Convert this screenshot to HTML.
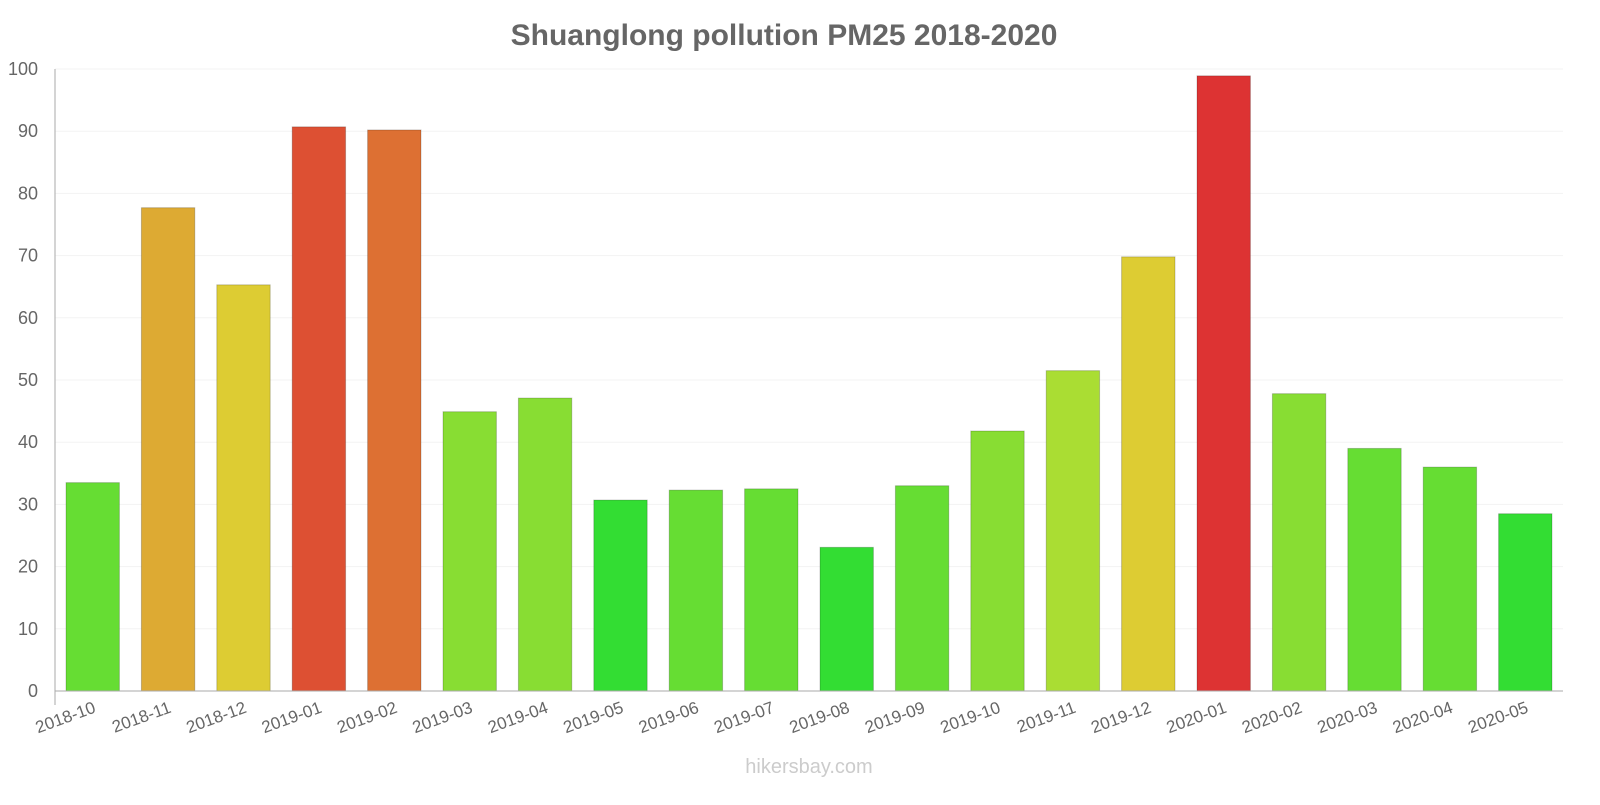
<!DOCTYPE html>
<html><head><meta charset="utf-8"><style>
body{margin:0;background:#fff;font-family:"Liberation Sans",sans-serif}
svg text{font-family:"Liberation Sans",sans-serif}
</style></head><body>
<svg id="chart" width="1600" height="800">
<text x="784" y="45" text-anchor="middle" font-size="30" font-weight="bold" fill="#666">Shuanglong pollution PM25 2018-2020</text>
<g id="grid"></g><g id="bars"></g><g id="axes"></g>
<text x="809" y="773" text-anchor="middle" font-size="20" fill="#ccc">hikersbay.com</text>
</svg>
<script>
const categories=["2018-10","2018-11","2018-12","2019-01","2019-02","2019-03","2019-04","2019-05","2019-06","2019-07","2019-08","2019-09","2019-10","2019-11","2019-12","2020-01","2020-02","2020-03","2020-04","2020-05"];
const values=[33.5,77.7,65.3,90.7,90.2,44.9,47.1,30.7,32.3,32.5,23.1,33,41.8,51.5,69.8,98.9,47.8,39,36,28.5];
const yTicks=[0,10,20,30,40,50,60,70,80,90,100];
const NS="http://www.w3.org/2000/svg";
const x0=55,x1=1563,y0=691,y100=69;
const band=(x1-x0)/categories.length;
const y=v=>y0-(v/100)*(y0-y100);
const xb=i=>x0+i*band;
function color(v){
 if(v<=31)return"#33dd33";if(v<=40)return"#66dd33";if(v<=50)return"#88dd33";if(v<=60)return"#aadd33";
 if(v<=75)return"#ddcc33";if(v<=85)return"#ddaa33";if(v<=90.5)return"#dd7033";if(v<=95)return"#dd5033";return"#dd3333";}
function el(t,a,p){const e=document.createElementNS(NS,t);for(const k in a)e.setAttribute(k,a[k]);p.appendChild(e);return e;}
const g=document.getElementById("grid"),b=document.getElementById("bars"),ax=document.getElementById("axes");
yTicks.forEach(t=>{
 const l=el("line",{x1:x0,x2:x1,y1:y(t),y2:y(t),stroke:"#f3f3f3"},g);
 
 
 const tx=el("text",{x:38,y:y(t)+6,"text-anchor":"end","font-size":"18",fill:"#666"},ax);tx.textContent=t;
 
 
});
values.forEach((v,i)=>{
 const c=color(v);
 const r=el("rect",{x:xb(i)+11,y:y(v),width:band-22,height:y0-y(v),fill:c,stroke:"rgba(0,0,0,0.2)"},b);
 
 
 const cx=xb(i)+band/2+4;
 const tx=el("text",{x:cx,y:712,"text-anchor":"end","font-size":"17",fill:"#666",transform:`rotate(-20 ${cx} 712)`},ax);tx.textContent=categories[i];
 
 
});
const xl=el("line",{x1:x0,x2:x1,y1:y0,y2:y0,stroke:"#aaa"},ax);


const yl=el("line",{x1:x0,x2:x0,y1:y100,y2:y0+14,stroke:"#aaa"},ax);


</script>
</body></html>
